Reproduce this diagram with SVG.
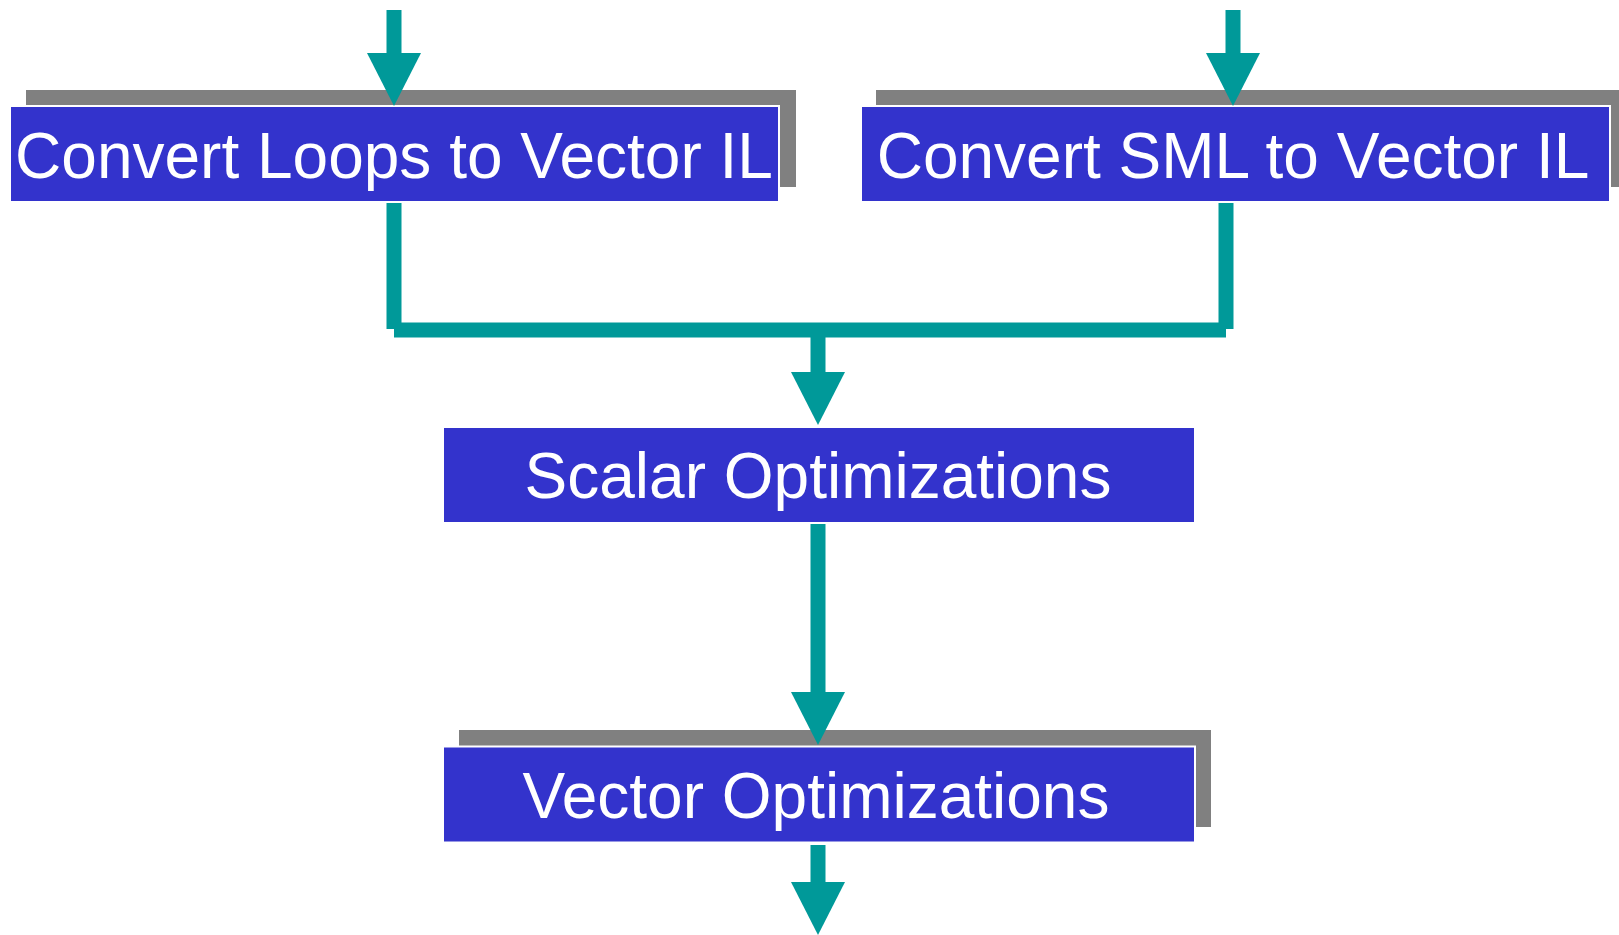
<svg xmlns="http://www.w3.org/2000/svg" width="1619" height="935" viewBox="0 0 1619 935">
<style>
.shadow{fill:#808080}
.box{fill:#3333CC;stroke:#FFFFFF;stroke-width:2}
.lbl{font-family:"Liberation Sans",Arial,sans-serif;font-size:64px;fill:#FFFFFF;text-anchor:middle}
.wire{fill:none;stroke:#009999;stroke-width:15;stroke-linecap:butt}
</style>
<defs>
<marker id="head" markerUnits="userSpaceOnUse" markerWidth="54" markerHeight="54" refX="0" refY="27" orient="auto" overflow="visible">
<path d="M0,0 L53,27 L0,54 Z" fill="#009999"/>
</marker>
</defs>
<g id="convert-loops">
<rect class="shadow" x="26" y="90" width="770" height="97"/>
<rect class="box" x="10" y="106" width="769" height="96"/>
<text class="lbl" x="394" y="178">Convert Loops to Vector IL</text>
</g>
<g id="convert-sml">
<rect class="shadow" x="876" y="90" width="760" height="97"/>
<rect class="box" x="861" y="106" width="749" height="96"/>
<text class="lbl" x="1233" y="178">Convert SML to Vector IL</text>
</g>
<g id="scalar-opt">
<rect class="box" x="443" y="427" width="752" height="96"/>
<text class="lbl" x="818" y="498">Scalar Optimizations</text>
</g>
<g id="vector-opt">
<rect class="shadow" x="459" y="730" width="752" height="97"/>
<rect class="box" x="443" y="746.5" width="752" height="96"/>
<text class="lbl" x="816" y="818">Vector Optimizations</text>
</g>
<g id="connectors">
<path class="wire" d="M394,10 V53" marker-end="url(#head)"/>
<path class="wire" d="M1233,10 V53" marker-end="url(#head)"/>
<path class="wire" d="M394,203 V329"/>
<path class="wire" d="M1226,203 V329"/>
<path class="wire" d="M394,330 H1226"/>
<path class="wire" d="M818,337 V372" marker-end="url(#head)"/>
<path class="wire" d="M818,524 V692" marker-end="url(#head)"/>
<path class="wire" d="M818,845 V882" marker-end="url(#head)"/>
</g>
</svg>
